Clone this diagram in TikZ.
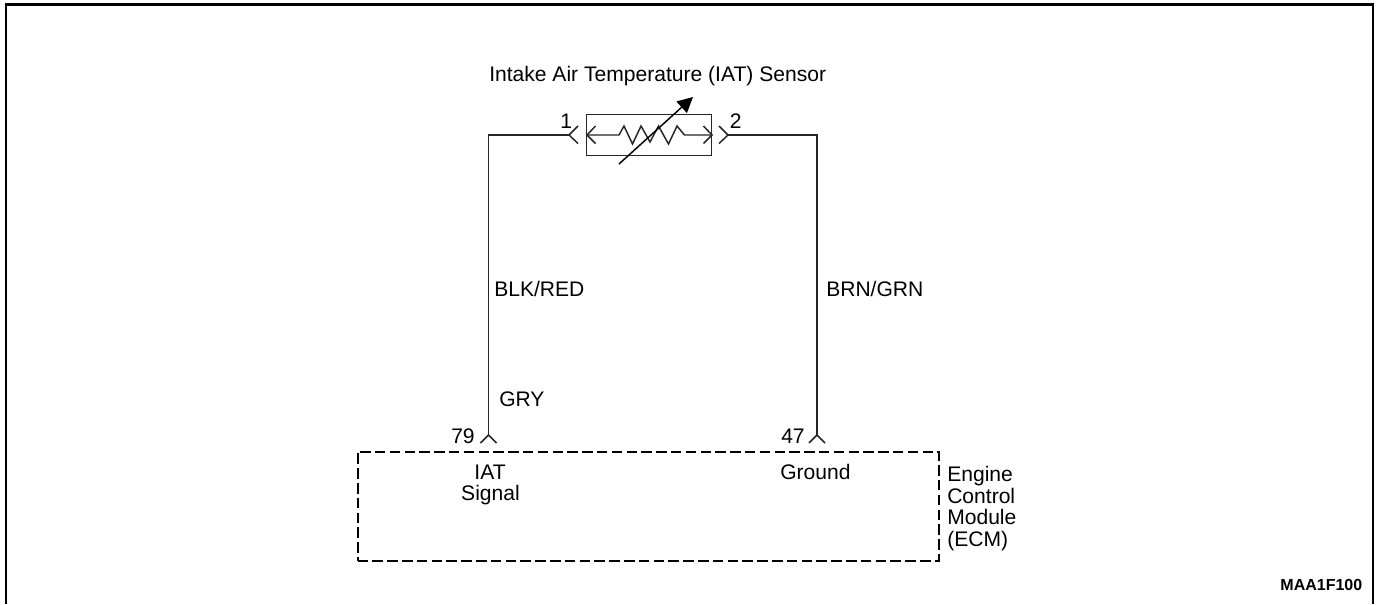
\documentclass[tikz,border=0pt]{standalone}
\usepackage{fontspec}
\setmainfont{Liberation Sans}
\usetikzlibrary{arrows.meta}
\tikzset{
  wire/.style={line width=1.1pt,black!85},
  lbl/.style={inner sep=0pt,font=\fontsize{15.8}{15.8}\selectfont,text=black},
  ecm/.style={line width=1.7pt,dash pattern=on 7.9pt off 3.2pt},
}
\begin{document}
\begin{tikzpicture}[x=0.75pt,y=-0.75pt]
\useasboundingbox (0,0) rectangle (1378,604);
% frame
\draw[line width=1.9pt] (6,604) -- (6,4.5) -- (1373,4.5) -- (1373,604);
% sensor box
\node[draw,wire,minimum width=93.75pt,minimum height=30.75pt,inner sep=0pt,anchor=north west] (sens) at (586,114) {};
\coordinate (pl) at (569,135);
\coordinate (pr) at (728,135);
\coordinate (cl) at (488.5,135);
\coordinate (cr) at (817,135);
\coordinate (b79) at (488.5,435);
\coordinate (b47) at (817,435);
\draw[wire] (pl) -- (cl) -- (b79);
\draw[wire] (pr) -- (cr) -- (b47);
% connector chevrons
\draw[wire] (578,126) -- (pl) -- (578,143.5);
\draw[wire] (719,126) -- (pr) -- (719,143.5);
\draw[wire] (480.5,443) -- (b79) -- (496.5,443);
\draw[wire] (809,443) -- (b47) -- (825,443);
% resistor
\coordinate (rl) at (587,135);
\coordinate (rr) at (712,135);
\draw[wire,line join=miter] (rl) -- (619,135) -- (624,126) -- (632.5,144) -- (641,126) -- (650,142) -- (658.5,126) -- (668.5,144) -- (677,126) -- (684.5,135) -- (rr);
\draw[wire] (595.5,126) -- (rl) -- (595.5,143.5);
\draw[wire] (703.5,126) -- (rr) -- (703.5,143.5);
% variable arrow
\coordinate (va) at (619,164);
\coordinate (vb) at (693,97);
\draw[line width=1.1pt,-{Triangle[length=11.5pt,width=11.5pt]}] (va) -- (vb);
% ECM
\node[draw,ecm,minimum width=435.75pt,minimum height=81.75pt,inner sep=0pt,anchor=north west] (ecmbox) at (356.5,450.5) {};
% labels
\node[lbl,anchor=base west] (title) at (489,81) {Intake Air Temperature (IAT) Sensor};
\node[lbl,anchor=base west] (n1) at (560,128) {1};
\node[lbl,anchor=base west] (n2) at (729.5,128) {2};
\node[lbl,anchor=base west] (bkr) at (494,296) {BLK/RED};
\node[lbl,anchor=base west] (bng) at (826,296) {BRN/GRN};
\node[lbl,anchor=base west] (gry) at (499,406) {GRY};
\node[lbl,anchor=base west] (n79) at (451,443) {79};
\node[lbl,anchor=base west] (n47) at (781,443) {47};
\node[lbl,anchor=base] (iat) at (490,479) {IAT};
\node[lbl,anchor=base] (sig) at (490.5,500.5) {Signal};
\node[lbl,anchor=base west] (gnd) at (780,479) {Ground};
\node[lbl,anchor=base west] (e1) at (947,481.5) {Engine};
\node[lbl,anchor=base west] (e2) at (947,503) {Control};
\node[lbl,anchor=base west] (e3) at (947,524.5) {Module};
\node[lbl,anchor=base west] (e4) at (947,546) {(ECM)};
\node[inner sep=0pt,anchor=base east,font=\bfseries\fontsize{12}{12}\selectfont] (code) at (1362.5,590.5) {MAA1F100};
\end{tikzpicture}
\end{document}
